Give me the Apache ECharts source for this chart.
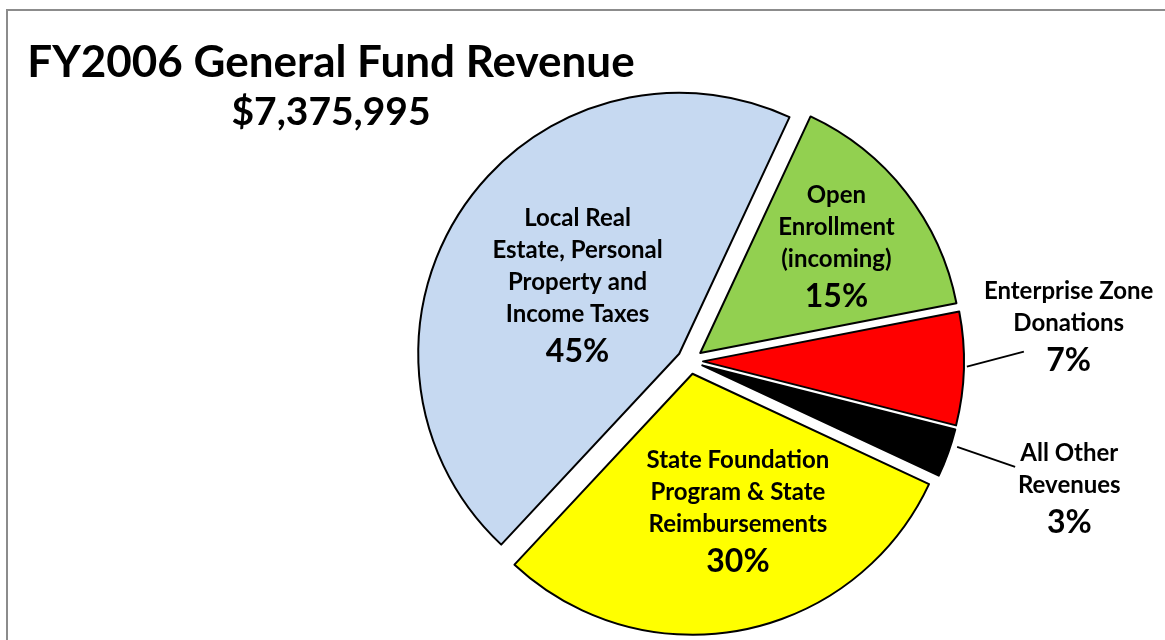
<!DOCTYPE html>
<html>
<head>
<meta charset="utf-8">
<script src="https://cdn.jsdelivr.net/npm/echarts@6/dist/echarts.min.js"></script>
<style>
  html, body { margin: 0; padding: 0; background: #fff; }
  #chart { width: 1165px; height: 640px; }
</style>
</head>
<body>
<div id="chart"></div>
<script>
// slices, clockwise from the top right edge of the tax slice
var categories = [
  'Open Enrollment (incoming)',
  'Enterprise Zone Donations',
  'All Other Revenues',
  'State Foundation Program & State Reimbursements',
  'Local Real Estate, Personal Property and Income Taxes'
]
var labelRows = [
  ['Open', 'Enrollment', '(incoming)'],
  ['Enterprise Zone', 'Donations'],
  ['All Other', 'Revenues'],
  ['State Foundation', 'Program & State', 'Reimbursements'],
  ['Local Real', 'Estate, Personal', 'Property and', 'Income Taxes']
]
var shares = [15, 7, 3, 30, 45]
var colors = ['#92D050', '#FF0000', '#000000', '#FFFF00', '#C6D9F1']
var labelPlace = ['inside', 'outside', 'outside', 'inside', 'inside']
// small label nudges (px) from where echarts puts them
var labelNudge = [[31, -21], [-5, -40], [46, 32], [20, 10], [9, 9]]
// leader line start / end, measured from the slice edge point echarts gives
var leaderSeg = [null, [[3, -2], [60, -17]], [[9, -6], [67, 14]], null, null]

var pieCenter = [690, 361]
var pieRadius = 261
var startAngle = 65
var explode = 13 // every slice is pulled out a bit

var font = 'Lato, "Open Sans", sans-serif'
var total = shares.reduce(function (a, b) { return a + b }, 0)

var blank = {
  itemStyle: { color: 'rgba(0,0,0,0)', borderWidth: 0 },
  label: { show: false },
  labelLine: { show: false }
}

// one pie per slice so each one can be shifted out along its own middle angle
var cum = 0
var series = shares.map(function (v, i) {
  var before = cum
  cum += v
  var mid = (startAngle - 360 * (before + v / 2) / total) * Math.PI / 180
  return {
    type: 'pie',
    silent: true,
    center: [pieCenter[0] + explode * Math.cos(mid), pieCenter[1] - explode * Math.sin(mid)],
    radius: pieRadius,
    startAngle: startAngle,
    clockwise: true,
    avoidLabelOverlap: false,
    emphasis: { disabled: true },
    itemStyle: { borderColor: '#000', borderWidth: 2 },
    label: {
      position: labelPlace[i],
      color: '#000',
      formatter: function (p) {
        var rows = labelRows[p.seriesIndex].map(function (r) {
          return '{n|' + r + '}'
        })
        return rows.join('\n') + '\n{p|' + p.value + '%}'
      },
      rich: {
        n: { fontFamily: font, fontWeight: 'bold', fontSize: 24, lineHeight: 32, align: 'center', color: '#000' },
        p: { fontFamily: font, fontWeight: 'bold', fontSize: 32, lineHeight: 43, align: 'center', color: '#000' }
      }
    },
    labelLine: {
      show: true,
      length: 20,
      length2: 0,
      lineStyle: { color: '#000', width: 2 }
    },
    labelLayout: function (p) {
      var n = labelNudge[p.seriesIndex]
      var r = p.labelRect
      var cx = r.x + r.width / 2 + n[0]
      var cy = r.y + r.height / 2 + n[1]
      var x = p.align === 'left' ? cx - r.width / 2 : (p.align === 'right' ? cx + r.width / 2 : cx)
      var y = p.verticalAlign === 'top' ? cy - r.height / 2 : (p.verticalAlign === 'bottom' ? cy + r.height / 2 : cy)
      var out = { x: x, y: y }
      var seg = leaderSeg[p.seriesIndex]
      if (seg && p.labelLinePoints) {
        var e = p.labelLinePoints[0]
        var a = [e[0] + seg[0][0], e[1] + seg[0][1]]
        var b = [e[0] + seg[1][0], e[1] + seg[1][1]]
        out.labelLinePoints = [a, [(a[0] + b[0]) / 2, (a[1] + b[1]) / 2], b]
      }
      return out
    },
    data: [
      Object.assign({ value: before }, blank),
      { name: categories[i], value: v, itemStyle: { color: colors[i] } },
      Object.assign({ value: total - before - v }, blank)
    ]
  }
})

var chart = echarts.init(document.getElementById('chart'))

chart.setOption({
  backgroundColor: '#ffffff',
  animation: false,
  title: {
    text: 'FY2006 General Fund Revenue',
    subtext: '$7,375,995',
    left: 331,
    top: 40,
    textAlign: 'center',
    padding: 0,
    itemGap: 5,
    textStyle: {
      fontFamily: font,
      fontWeight: 'bold',
      fontSize: 44,
      lineHeight: 46,
      color: '#000'
    },
    subtextStyle: {
      fontFamily: font,
      fontWeight: 'bold',
      fontSize: 39,
      lineHeight: 42,
      color: '#000'
    }
  },
  graphic: [{
    // grey frame of the chart area
    type: 'rect',
    silent: true,
    shape: { x: 7, y: 10, width: 1180, height: 660 },
    style: { fill: 'none', stroke: '#8c8c8c', lineWidth: 2 }
  }],
  series: series
})
</script>
</body>
</html>
